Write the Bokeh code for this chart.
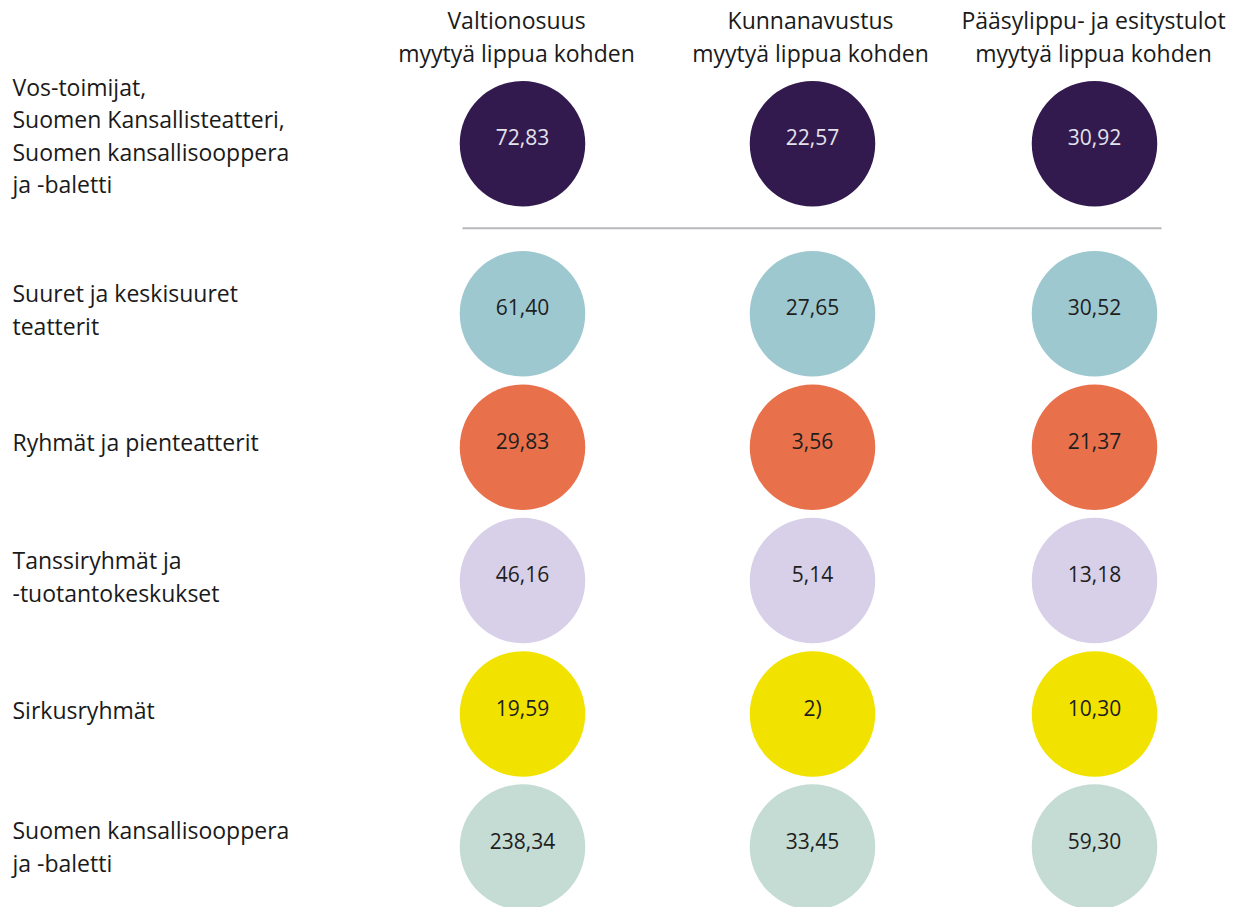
from bokeh.plotting import figure
from bokeh.models import Range1d, ColumnDataSource
from bokeh.core.properties import value
from bokeh.embed import file_html
from bokeh.resources import INLINE

# ---------------- data ----------------
row_labels = [
    "Vos-toimijat,\nSuomen Kansallisteatteri,\nSuomen kansallisooppera\nja -baletti",
    "Suuret ja keskisuuret\nteatterit",
    "Ryhmät ja pienteatterit",
    "Tanssiryhmät ja\n-tuotantokeskukset",
    "Sirkusryhmät",
    "Suomen kansallisooppera\nja -baletti",
]
column_titles = [
    "Valtionosuus\nmyytyä lippua kohden",
    "Kunnanavustus\nmyytyä lippua kohden",
    "Pääsylippu- ja esitystulot\nmyytyä lippua kohden",
]
valtionosuus = [72.83, 61.40, 29.83, 46.16, 19.59, 238.34]
kunnanavustus = [22.57, 27.65, 3.56, 5.14, None, 33.45]
paasylippu_esitystulot = [30.92, 30.52, 21.37, 13.18, 10.30, 59.30]
missing_note = "2)"

# ---------------- styles / layout ----------------
row_colors = ["#321a4f", "#9ec8cf", "#e8714b", "#d8d0e8", "#f2e200", "#c4dcd4"]
value_text_colors = ["#e4e2ec", "#1e1e1e", "#1e1e1e", "#1e1e1e", "#1e1e1e", "#1e1e1e"]
col_x = [522, 812, 1094]
header_x = [516, 810, 1093]
row_y = [143.3, 313.3, 446.7, 580, 713.5, 846.5]
label_y = [135, 309, 441, 576, 709, 846]
header_line_y = [19, 52]
label_line_gap = 32.3
FONT = "Open Sans"
W, H = 1238, 907

p = figure(width=W, height=H, x_range=Range1d(0, W), y_range=Range1d(H, 0),
           output_backend="svg", toolbar_location=None, min_border=0,
           x_axis_location=None, y_axis_location=None)
p.grid.visible = False
p.outline_line_color = None
p.background_fill_color = "white"
p.border_fill_color = "white"

def fmt(v):
    return missing_note if v is None else f"{v:.2f}".replace(".", ",")

series = [valtionosuus, kunnanavustus, paasylippu_esitystulot]
xs, ys, cols, txt, tcol, ty = [], [], [], [], [], []
for ci, s in enumerate(series):
    for ri, v in enumerate(s):
        xs.append(col_x[ci]); ys.append(row_y[ri]); cols.append(row_colors[ri])
        txt.append(fmt(v)); tcol.append(value_text_colors[ri]); ty.append(row_y[ri] - 6.5)

src = ColumnDataSource(dict(x=xs, y=ys, c=cols, t=txt, tc=tcol, ty=ty))
p.scatter("x", "y", source=src, marker="circle", size=125.5, fill_color="c", line_color=None)
p.text("x", "ty", text="t", source=src, text_color="tc", text_align="center",
       text_baseline="middle", text_font=value(FONT), text_font_size="21px")

# separator line below first group
sep_y = 227.7
p.segment(x0=[462], y0=[sep_y], x1=[1161], y1=[sep_y], line_color="#b9b9bd", line_width=2)

# column headers
hx, hy, ht = [], [], []
for ci, title in enumerate(column_titles):
    for li, line in enumerate(title.split("\n")):
        hx.append(header_x[ci]); hy.append(header_line_y[li]); ht.append(line)
p.text(x=hx, y=hy, text=ht, text_align="center", text_baseline="middle",
       text_font=value(FONT), text_font_size="23px", text_color="#1a1a1a")

# row labels
lx, ly, lt = [], [], []
for ri, lab in enumerate(row_labels):
    lines = lab.split("\n")
    n = len(lines)
    for li, line in enumerate(lines):
        lx.append(12); ly.append(label_y[ri] + (li - (n - 1) / 2) * label_line_gap); lt.append(line)
p.text(x=lx, y=ly, text=lt, text_align="left", text_baseline="middle",
       text_font=value(FONT), text_font_size="23px", text_color="#1a1a1a")

open("out.html", "w").write(file_html(p, INLINE))
